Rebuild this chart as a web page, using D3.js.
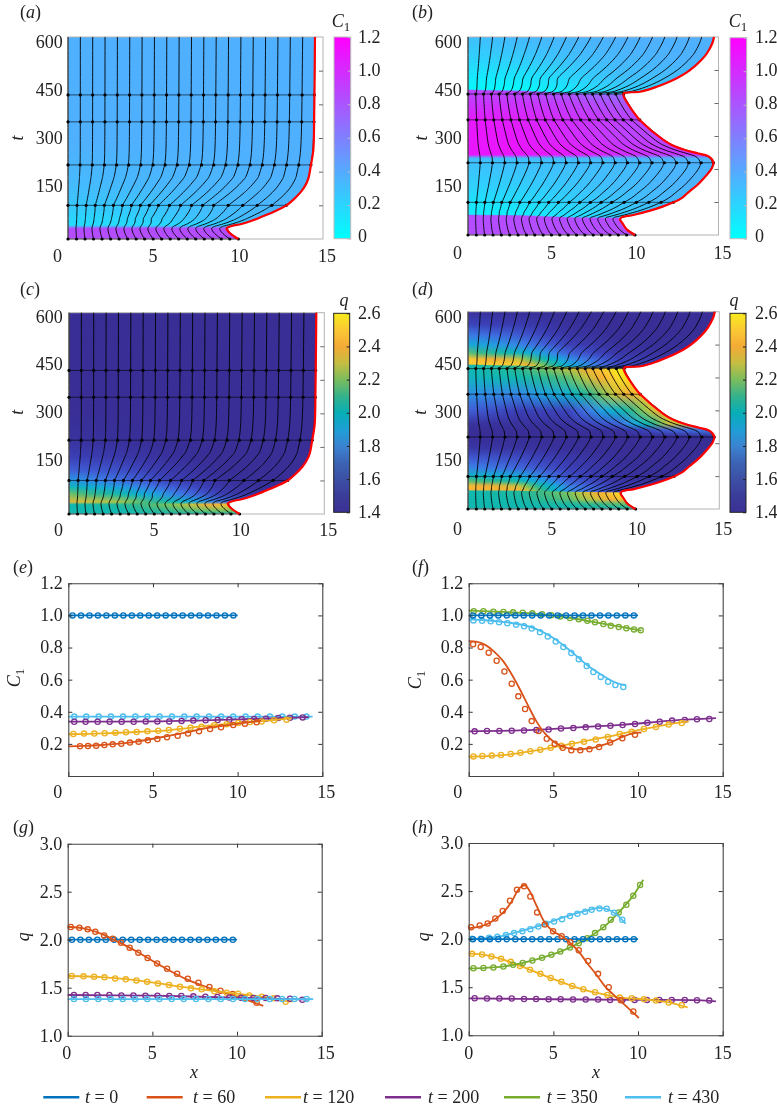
<!DOCTYPE html>
<html>
<head>
<meta charset="utf-8">
<style>
  html, body { margin: 0; padding: 0; background: #fff; overflow: hidden; }
  canvas, svg { position: absolute; left: 0; top: 0; }
  text { font-family: "Liberation Serif", serif; fill: #222; }
</style>
<script src="https://cdn.jsdelivr.net/npm/d3@7"></script>
</head>
<body>
<canvas id="heat" width="777" height="1107"></canvas>
<svg id="chart" width="777" height="1107"></svg>
<script>
// moving boundary (a)/(c) and (b)/(d)
const leftBoundT = [0, 17, 32, 38.6, 44.6, 55, 66, 82, 99, 120, 140, 160, 180, 220, 264, 363, 600];
const leftBoundX = [10.02, 9.53, 9.33, 9.63, 10.2, 10.85, 11.39, 12.15, 12.82, 13.32, 13.7, 13.97, 14.14, 14.29, 14.43, 14.48, 14.53];
const rightBoundT = [0, 17, 35, 47.5, 53.5, 60.6, 73.7, 86, 99, 112, 125, 136, 150, 172, 202, 219, 237, 247, 257.6, 273, 288, 348, 373, 424, 430, 434, 449, 462, 475, 492, 510, 530, 550, 581, 600];
const rightBoundX = [10, 9.5, 9.26, 9.1, 9.2, 9.9, 10.9, 11.65, 12.3, 12.8, 13.1, 13.35, 13.7, 14.12, 14.6, 14.7, 14.45, 13.8, 13, 12.2, 11.7, 10.3, 9.9, 9.3, 9.34, 10.3, 11.3, 11.95, 12.5, 13.08, 13.55, 13.97, 14.3, 14.63, 14.73];

// times where the dotted rows sit
const leftRows = [0, 100, 220, 348, 428];
const rightRows = [0, 99, 219, 349, 427];

// node fractions of the boundary at 0, 1/4, 1/2, 3/4, 1 of the nodes
const fracNodes = [0, 0.25, 0.5, 0.75, 1];
const leftFracT = [0, 36, 60, 100, 150, 185, 220, 600];
const leftFrac = [
  [0, .25, .5, .75, 1], [0, .25, .5, .75, 1], [0, .23, .44, .73, 1], [0, .208, .414, .667, 1],
  [0, .225, .455, .71, 1], [0, .24, .485, .74, 1], [0, .25, .5, .75, 1], [0, .25, .5, .75, 1]
];
const rightFracT = [0, 53, 70, 99, 150, 219, 241, 288, 349, 432, 475, 545, 600];
const rightFrac = [
  [0, .25, .5, .75, 1], [0, .25, .5, .75, 1], [0, .22, .46, .72, 1], [0, .205, .44, .70, 1],
  [0, .225, .47, .73, 1], [0, .25, .5, .75, 1], [0, .25, .505, .75, 1], [0, .25, .505, .77, 1],
  [0, .25, .5, .76, 1], [0, .25, .5, .75, 1], [0, .22, .425, .71, 1], [0, .235, .47, .735, 1], [0, .25, .5, .75, 1]
];

// colour fields: columns at fieldX, a row gives its time (one, or one per column) and values
const fieldX = [0, 3, 6, 9, 12, 15];
const aFieldT = [0, 31, 41, 60, 100, 160, 220, 300, 600];
const aFieldV = [
  [.84, .84, .84, .84, .84, .84], [.84, .84, .84, .84, .84, .84], [.17, .17, .17, .2, .2, .2],
  [.19, .2, .25, .31, .33, .33], [.26, .27, .3, .32, .35, .36], [.32, .33, .34, .35, .36, .36],
  [.35, .35, .36, .36, .37, .37], [.37, .37, .37, .37, .37, .37], [.37, .37, .37, .37, .37, .37]
];
const bFieldT = [
  0, [59, 58, 52, 50, 50, 50], [63, 62, 56, 54, 54, 54], 100, 150, 205, 232, 244, 300, 350, 400, 423,
  [438, 435, 428, 425, 425, 425], [442, 440, 433, 430, 430, 430], 480, 540, 600
];
const bFieldV = [
  [.84, .84, .84, .84, .84, .84], [.84, .84, .84, .84, .84, .84], [.08, .08, .14, .22, .25, .25],
  [.13, .16, .22, .28, .33, .34], [.22, .23, .27, .31, .35, .36], [.28, .29, .3, .32, .35, .36],
  [.3, .3, .3, .33, .36, .36], [1.1, 1.1, 1.08, 1, .95, .95], [1.1, 1.08, 1, .9, .85, .85],
  [1.08, 1.05, .98, .9, .85, .85], [.95, .95, .9, .8, .8, .8], [.9, .88, .8, .7, .7, .7],
  [.9, .87, .78, .62, .6, .6], [.03, .03, .1, .2, .22, .22], [.1, .12, .2, .3, .32, .33],
  [.22, .25, .3, .34, .36, .37], [.3, .33, .35, .37, .37, .37]
];
const cFieldT = [0, 10, 28, 36, 60, 80, 100, 130, 170, 220, 300, 600];
const cFieldV = [
  [2, 2, 2, 2, 2, 2], [2, 2, 2.1, 2.2, 2.2, 2.2], [2, 2.05, 2.2, 2.45, 2.45, 2.45],
  [2.35, 2.25, 2, 1.65, 1.5, 1.5], [2.18, 2, 1.72, 1.48, 1.42, 1.42], [1.98, 1.8, 1.6, 1.45, 1.4, 1.4],
  [1.78, 1.65, 1.5, 1.42, 1.4, 1.4], [1.6, 1.55, 1.46, 1.4, 1.39, 1.39], [1.5, 1.46, 1.42, 1.39, 1.38, 1.38],
  [1.43, 1.41, 1.4, 1.39, 1.38, 1.38], [1.39, 1.39, 1.39, 1.38, 1.38, 1.38], [1.385, 1.385, 1.385, 1.385, 1.385, 1.385]
];
const dFieldT = [
  0, 15, 30, [55, 55, 51, 49, 49, 49], [58, 57, 54, 52, 52, 52], 70, 85, 100, 125, 150, 185, 220, 240, 260, 300, 350, 400,
  [437, 434, 429, 426, 426, 426], [441, 438, 433, 430, 430, 430], 455, 475, 500, 530, 560, 600
];
const dFieldV = [
  [2, 2, 2, 2, 2, 2], [2, 2, 2.03, 2.15, 2.2, 2.2], [2, 2.02, 2.15, 2.45, 2.5, 2.5], [2, 2.05, 2.2, 2.55, 2.6, 2.6],
  [2.42, 2.42, 1.75, 1.5, 1.45, 1.45], [2.45, 2.3, 1.7, 1.48, 1.43, 1.43], [2.15, 2, 1.6, 1.45, 1.42, 1.42],
  [1.95, 1.85, 1.55, 1.43, 1.4, 1.4], [1.72, 1.62, 1.5, 1.42, 1.4, 1.4], [1.6, 1.55, 1.47, 1.41, 1.39, 1.39],
  [1.45, 1.43, 1.41, 1.39, 1.38, 1.38], [1.39, 1.39, 1.39, 1.39, 1.39, 1.39], [1.4, 1.4, 1.4, 1.42, 1.6, 1.7],
  [1.43, 1.42, 1.43, 1.62, 2.3, 2.4], [1.6, 1.5, 1.52, 1.95, 2.5, 2.5], [1.75, 1.72, 1.9, 2.35, 2.6, 2.6],
  [1.95, 2, 2.15, 2.55, 2.6, 2.6], [2, 2.1, 2.3, 2.6, 2.6, 2.6], [2.5, 2.5, 1.9, 1.55, 1.5, 1.5],
  [2.5, 2.3, 1.75, 1.5, 1.45, 1.45], [2.15, 1.95, 1.6, 1.45, 1.42, 1.42], [1.85, 1.72, 1.5, 1.42, 1.41, 1.41],
  [1.68, 1.58, 1.45, 1.4, 1.4, 1.4], [1.52, 1.48, 1.42, 1.39, 1.39, 1.39], [1.42, 1.4, 1.39, 1.38, 1.38, 1.38]
];

// colours of the q colour bar and of the q field, one every 0.1 from 1.4 to 2.6
const parulaStops = ["#3a3094", "#3b3c9a", "#3c50a5", "#3c64b4", "#3b84d2", "#1e9fd6", "#06aeb6", "#35b28c", "#7bbd5d", "#c5bd42", "#f4ab36", "#fbc934", "#f6ea1c"];
const fieldStops = ["#382e96", "#3b3fb6", "#4060d8", "#3a80e8", "#1fa0e0", "#0eb0d0", "#10b8b0", "#35b88c", "#7fc45c", "#c8c23e", "#f6ae34", "#fbca32", "#f8f018"];
const seriesColors = ["#0072BD", "#D95319", "#EDB120", "#7E2F8E", "#77AC30", "#4DBEEE"];
const legendTimes = [0, 60, 120, 200, 350, 430];

// profile values, t = 0 is the same everywhere
const t0Line = [0, 10];
const t0MarkX = [.25, .75, 1.25, 1.75, 2.25, 2.75, 3.25, 3.75, 4.25, 4.75, 5.25, 5.75, 6.25, 6.75, 7.25, 7.75, 8.25, 8.75, 9.25, 9.75];

// (e) C1, left case
const e60Line = [[0, .185], [1, .187], [2, .193], [3, .201], [4, .214], [5, .232], [6, .251], [7, .272], [8, .295], [9, .31], [10, .325], [11.4, .345]];
const e60MarkX = [.69, 1.16, 1.65, 2.13, 2.62, 3.13, 3.64, 4.15, 4.7, 5.26, 5.83, 6.46, 7.07, 7.72, 8.37, 9.02, 9.74, 10.43, 11.12];
const e60MarkY = [.185, .187, .189, .193, .197, .201, .208, .214, .222, .23, .241, .251, .264, .278, .293, .303, .318, .326, .334];
const e120Line = [[0, .26], [2, .265], [4, .274], [6, .286], [8, .31], [10, .33], [12, .347], [13.2, .36]];
const e120MarkX = [.3, .93, 1.54, 2.15, 2.78, 3.41, 4.04, 4.67, 5.31, 5.94, 6.59, 7.22, 7.87, 8.62, 9.35, 10.04, 10.73, 11.42, 12.15, 12.89];
const e120MarkY = [.262, .264, .264, .266, .27, .272, .274, .278, .282, .286, .295, .301, .307, .316, .322, .33, .336, .34, .347, .351];
const e200Line = [[0, .338], [5, .34], [8, .347], [11, .355], [14.2, .367]];
const e200MarkX = [.35, 1.02, 1.73, 2.44, 3.15, 3.86, 4.57, 5.26, 5.96, 6.69, 7.38, 8.11, 8.82, 9.51, 10.24, 10.97, 11.67, 12.4, 13.09, 13.84];
const e200MarkY = [.338, .338, .338, .338, .338, .338, .34, .34, .34, .343, .345, .347, .349, .351, .353, .355, .357, .361, .363, .365];
const e430Line = [[0, .37], [14.43, .37]];
const e430MarkX = [.35, 1.06, 1.79, 2.52, 3.23, 3.96, 4.67, 5.39, 6.12, 6.85, 7.58, 8.31, 9.02, 9.74, 10.47, 11.18, 11.91, 12.64, 13.37, 14.07];

// (f) C1, right case
const f60Line = [[0, .84], [.5, .835], [1, .815], [1.5, .775], [2, .72], [2.5, .64], [3, .545], [3.5, .44], [4, .34], [4.5, .265], [5, .215], [5.5, .185], [6, .17], [6.5, .165], [7, .17], [7.5, .18], [8, .195], [8.5, .215], [9, .24], [9.5, .26], [10, .27], [10.2, .27]];
const f60MarkX = [.26, .71, 1.18, 1.65, 2.11, 2.54, 2.93, 3.33, 3.72, 4.13, 4.61, 5.08, 5.55, 6.06, 6.59, 7.13, 7.7, 8.35, 9.07, 9.82];
const f60MarkY = [.82, .803, .768, .718, .651, .575, .496, .417, .342, .28, .232, .201, .176, .16, .16, .166, .181, .208, .235, .257];
const f120Line = [[0, .12], [2, .13], [4, .16], [6, .2], [8, .24], [10, .285], [12, .325], [13, .34]];
const f120MarkX = [.28, .81, 1.36, 1.91, 2.48, 3.05, 3.64, 4.23, 4.84, 5.47, 6.1, 6.81, 7.5, 8.21, 8.92, 9.63, 10.35, 11.06, 11.81, 12.58];
const f120MarkY = [.122, .125, .127, .131, .137, .145, .154, .164, .176, .189, .201, .214, .228, .243, .262, .276, .293, .305, .32, .33];
const f200Line = [[0, .278], [3, .284], [6, .3], [9, .318], [12, .345], [14.6, .36]];
const f200MarkX = [.35, 1.08, 1.81, 2.54, 3.27, 4, 4.72, 5.45, 6.18, 6.91, 7.64, 8.37, 9.09, 9.82, 10.55, 11.28, 12.01, 12.76, 13.48, 14.21];
const f200MarkY = [.278, .28, .28, .282, .284, .286, .29, .296, .299, .303, .309, .313, .318, .324, .332, .338, .345, .349, .353, .355];
const f350Line = [[0, 1.03], [2, 1.022], [4, 1.01], [6, .984], [8, .947], [10.2, .905]];
const f350MarkX = [.3, .87, 1.46, 2.05, 2.62, 3.19, 3.76, 4.33, 4.88, 5.41, 5.98, 6.5, 7.01, 7.46, 7.95, 8.39, 8.86, 9.31, 9.76, 10.16];
const f350MarkY = [1.026, 1.026, 1.023, 1.021, 1.019, 1.017, 1.013, 1.007, 1.001, .994, .984, .976, .967, .957, .947, .936, .928, .92, .913, .907];
const f430Line = [[0, .975], [1, .97], [2, .96], [3, .945], [4, .915], [5, .86], [6, .78], [7, .69], [8, .62], [8.5, .59], [9, .57], [9.3, .565]];
const f430MarkX = [.28, .79, 1.3, 1.79, 2.28, 2.8, 3.27, 3.72, 4.21, 4.67, 5.14, 5.59, 6.06, 6.5, 6.97, 7.36, 7.8, 8.23, 8.66, 9.13];
const f430MarkY = [.969, .967, .963, .957, .951, .942, .932, .918, .895, .868, .837, .803, .766, .727, .685, .648, .617, .587, .567, .554];

// (g) q, left case
const g60Line = [[0, 2.135], [1, 2.115], [2, 2.06], [3, 1.975], [4, 1.885], [5, 1.78], [6, 1.68], [7, 1.59], [8, 1.52], [9, 1.46], [10, 1.41], [11.55, 1.31]];
const g60MarkX = [.18, .69, 1.18, 1.63, 2.15, 2.66, 3.15, 3.66, 4.17, 4.72, 5.28, 5.87, 6.46, 7.09, 7.72, 8.37, 9.02, 9.74, 10.43, 11.16];
const g60MarkY = [2.132, 2.125, 2.108, 2.083, 2.045, 2.01, 1.969, 1.917, 1.865, 1.809, 1.753, 1.698, 1.646, 1.594, 1.552, 1.507, 1.469, 1.434, 1.396, 1.344];
const g120Line = [[0, 1.622], [2, 1.61], [4, 1.578], [6, 1.528], [8, 1.48], [10, 1.438], [12, 1.392], [12.9, 1.36], [13.3, 1.358]];
const g120MarkX = [.24, .93, 1.56, 2.17, 2.8, 3.43, 4.06, 4.69, 5.33, 5.98, 6.63, 7.28, 7.91, 8.66, 9.39, 10.06, 10.73, 11.46, 12.15, 12.87];
const g120MarkY = [1.622, 1.618, 1.615, 1.608, 1.597, 1.587, 1.576, 1.563, 1.545, 1.528, 1.51, 1.493, 1.483, 1.462, 1.448, 1.438, 1.42, 1.406, 1.389, 1.354];
const g200Line = [[0, 1.424], [5, 1.417], [10, 1.396], [14.2, 1.375]];
const g200MarkX = [.37, 1.06, 1.75, 2.46, 3.17, 3.88, 4.59, 5.3, 6, 6.71, 7.42, 8.13, 8.84, 9.55, 10.24, 10.96, 11.69, 12.38, 13.13, 13.86];
const g200MarkY = [1.424, 1.424, 1.424, 1.424, 1.42, 1.42, 1.417, 1.417, 1.413, 1.413, 1.41, 1.406, 1.403, 1.399, 1.396, 1.392, 1.392, 1.389, 1.385, 1.375];
const g430Line = [[0, 1.382], [14.5, 1.382]];
const g430MarkX = [.37, 1.08, 1.81, 2.54, 3.25, 3.98, 4.7, 5.41, 6.14, 6.85, 7.58, 8.31, 9.04, 9.76, 10.47, 11.2, 11.93, 12.66, 13.39, 14.11];

// (h) q, right case
const h60Line = [[0, 2.115], [.5, 2.125], [1, 2.15], [1.5, 2.2], [2, 2.27], [2.5, 2.38], [3, 2.53], [3.33, 2.56], [3.6, 2.5], [4, 2.35], [4.5, 2.17], [5, 2.08], [5.5, 2.03], [6, 1.96], [6.5, 1.87], [7, 1.75], [7.5, 1.64], [8, 1.52], [8.5, 1.43], [9, 1.35], [9.5, 1.27], [10.05, 1.18]];
const h60MarkX = [.14, .65, 1.12, 1.57, 2.01, 2.44, 2.85, 3.27, 3.64, 4.04, 4.49, 4.98, 5.49, 6, 6.5, 7.05, 7.64, 8.27, 8.98, 9.72];
const h60MarkY = [2.125, 2.142, 2.163, 2.215, 2.292, 2.399, 2.514, 2.549, 2.444, 2.278, 2.153, 2.083, 2.031, 1.969, 1.885, 1.774, 1.639, 1.5, 1.365, 1.247];
const h120Line = [[0, 1.85], [1, 1.835], [2, 1.79], [3, 1.725], [4, 1.655], [5, 1.585], [6, 1.52], [7, 1.465], [8, 1.425], [9, 1.39], [10, 1.38], [11, 1.362], [12, 1.335], [12.93, 1.29]];
const h120MarkX = [.2, .79, 1.34, 1.91, 2.48, 3.03, 3.62, 4.23, 4.84, 5.47, 6.12, 6.77, 7.46, 8.19, 8.92, 9.63, 10.35, 11.06, 11.81, 12.58];
const h120MarkY = [1.847, 1.84, 1.819, 1.795, 1.764, 1.722, 1.681, 1.639, 1.597, 1.556, 1.514, 1.479, 1.448, 1.42, 1.392, 1.385, 1.375, 1.361, 1.34, 1.313];
const h200Line = [[0, 1.385], [5, 1.375], [10, 1.368], [13.5, 1.365], [14.6, 1.352]];
const h200MarkX = [.35, 1.08, 1.81, 2.54, 3.27, 3.98, 4.72, 5.43, 6.16, 6.91, 7.64, 8.35, 9.07, 9.8, 10.53, 11.26, 11.99, 12.76, 13.48, 14.21];
const h200MarkY = [1.385, 1.382, 1.382, 1.382, 1.378, 1.378, 1.375, 1.375, 1.372, 1.372, 1.372, 1.368, 1.368, 1.368, 1.368, 1.368, 1.368, 1.368, 1.365, 1.361];
const h350Line = [[0, 1.695], [1, 1.702], [2, 1.715], [3, 1.745], [4, 1.79], [5, 1.845], [6, 1.915], [7, 2.01], [8, 2.13], [9, 2.305], [9.7, 2.45], [10.31, 2.618]];
const h350MarkX = [.28, .87, 1.46, 2.05, 2.62, 3.19, 3.76, 4.33, 4.88, 5.41, 5.98, 6.5, 7.01, 7.46, 7.95, 8.39, 8.86, 9.31, 9.72, 10.12];
const h350MarkY = [1.698, 1.701, 1.705, 1.715, 1.733, 1.753, 1.778, 1.806, 1.837, 1.872, 1.913, 1.958, 2.01, 2.063, 2.125, 2.201, 2.278, 2.358, 2.451, 2.563];
const h430Line = [[0, 2], [1, 2.01], [2, 2.035], [3, 2.08], [4, 2.13], [5, 2.19], [6, 2.25], [7, 2.3], [7.7, 2.325], [8.2, 2.31], [8.7, 2.26], [9.27, 2.16]];
const h430MarkX = [.2, .71, 1.2, 1.69, 2.2, 2.68, 3.17, 3.64, 4.11, 4.57, 5.04, 5.51, 5.98, 6.42, 6.87, 7.26, 7.72, 8.15, 8.58, 9.07];
const h430MarkY = [2.003, 2.003, 2.014, 2.024, 2.042, 2.063, 2.083, 2.104, 2.132, 2.16, 2.184, 2.208, 2.24, 2.264, 2.285, 2.306, 2.32, 2.316, 2.274, 2.201];

const svg = d3.select("#chart");
const ctx = document.getElementById("heat").getContext("2d");

const coolColor = d3.scaleLinear().domain([0, 1.2]).range(["#00ffff", "#ff00ff"]).clamp(true);
const qDomain = parulaStops.map((d, i) => 1.4 + 1.2 * i / (parulaStops.length - 1));
const parulaColor = d3.scaleLinear().domain(qDomain).range(parulaStops).clamp(true);
const fieldColor = d3.scaleLinear().domain(qDomain).range(fieldStops).clamp(true);

function label(x, y, str, anchor) {
  return svg.append("text").attr("x", x).attr("y", y).attr("dy", ".33em")
    .attr("font-size", 18).attr("text-anchor", anchor || "middle").text(str);
}
function ital(x, y, str, rotate) {
  let t = label(x, y, str).attr("font-style", "italic");
  if (rotate) t.attr("transform", `rotate(-90 ${x} ${y})`);
  return t;
}
function c1Label(x, y, rotate) {
  let t = label(x, y, "").attr("font-style", "italic");
  t.append("tspan").text("C");
  t.append("tspan").attr("font-style", "normal").attr("font-size", 13).attr("dy", 4).text("1");
  if (rotate) t.attr("transform", `rotate(-90 ${x} ${y})`);
}
function letter(x, y, ch) {
  let t = label(x, y, "", "start");
  t.append("tspan").text("(");
  t.append("tspan").attr("font-style", "italic").text(ch);
  t.append("tspan").text(")");
}

// ---- panels (a)-(d): colour field, moving boundary, node lines
function heatPanel(o) {
  let x = d3.scaleLinear().domain([0, 15]).range([o.left, o.right]);
  let y = d3.scaleLinear().domain([0, 600]).range([o.bottom, o.top]);
  let lengthAt = d3.scaleLinear().domain(o.boundT).range(o.boundX);
  let boundary = d3.line().x(d => x(d[1])).y(d => y(d[0])).curve(d3.curveCatmullRom.alpha(0.5));
  let boundPts = d3.zip(o.boundT, o.boundX);

  // field, one pixel column at a time, with a vertical gradient between the rows
  ctx.save();
  ctx.clip(new Path2D(boundary(boundPts) + `L${x(0)},${y(600)}L${x(0)},${y(0)}Z`));
  let colIndex = d3.scaleLinear().domain(fieldX).range(d3.range(fieldX.length)).clamp(true);
  for (let px = Math.floor(x(0)); px < Math.ceil(x(15)); px++) {
    let c = colIndex(x.invert(px + .5));
    let i = Math.min(Math.floor(c), fieldX.length - 2), f = c - i;
    let grad = ctx.createLinearGradient(0, y(0), 0, y(600));
    o.fieldT.forEach((r, k) => {
      let t = typeof r === "number" ? r : r[i] + (r[i + 1] - r[i]) * f;
      let v = o.fieldV[k][i] + (o.fieldV[k][i + 1] - o.fieldV[k][i]) * f;
      grad.addColorStop(t / 600, o.color(v));
    });
    ctx.fillStyle = grad;
    ctx.fillRect(px, o.top, 1, o.bottom - o.top);
  }
  ctx.restore();

  let g = svg.append("g");
  g.append("rect").attr("x", o.left).attr("y", o.top)
    .attr("width", o.right - o.left).attr("height", o.bottom - o.top)
    .attr("fill", "none").attr("stroke", "#b4b4b4").attr("stroke-width", 1);
  let ax = g.append("g").attr("transform", `translate(${o.right},0)`)
    .call(d3.axisRight(y).tickValues(d3.range(100, 600, 100)).tickSize(-4).tickFormat(""));
  ax.select(".domain").remove();
  ax.selectAll("line").attr("stroke", "#444").attr("stroke-width", .8);

  // node lines
  let fracAt = fracNodes.map((_, col) => d3.scaleLinear().domain(o.fracT).range(o.frac.map(r => r[col])));
  let nodeX = (u, t) => d3.scaleLinear().domain(fracNodes).range(fracAt.map(s => s(t)))(u) * lengthAt(t);
  let lineTs = Array.from(new Set(o.fracT.concat(o.boundT))).sort(d3.ascending);
  let nodeLine = d3.line().curve(d3.curveBasis);
  let nodes = d3.range(21).map(i => i / 20);
  g.selectAll(".node").data(nodes).join("path")
    .attr("d", u => nodeLine(lineTs.map(t => [x(nodeX(u, t)), y(t)])))
    .attr("fill", "none").attr("stroke", "#000").attr("stroke-width", .9);

  o.rows.forEach(t => {
    g.append("line").attr("x1", x(0)).attr("x2", x(lengthAt(t))).attr("y1", y(t)).attr("y2", y(t))
      .attr("stroke", "#000").attr("stroke-width", .6);
    g.selectAll(null).data(nodes).join("circle")
      .attr("cx", u => x(nodeX(u, t))).attr("cy", y(t)).attr("r", 1.6).attr("fill", "#000");
  });

  g.append("path").attr("d", boundary(boundPts)).attr("fill", "none")
    .attr("stroke", "#ff0000").attr("stroke-width", 2.2);

  // labels do not sit on the ticks in the original, so they get their own scale
  let tLabel = d3.scaleLinear().domain([150, 600]).range(o.tLabelRange);
  [150, 300, 450, 600].forEach(v => label(o.tLabelEnd, tLabel(v), v, "end"));
  [0, 5, 10, 15].forEach(v => label(x(v) + (v === 0 ? -10.5 : v === 15 ? 4 : v === 10 ? 1.5 : 0), o.xLabelY, v));
  ital(o.tNameX, tLabel(300), "t", true);
}

function colorbar(o) {
  let id = "cb" + o.id;
  let grad = svg.append("defs").append("linearGradient").attr("id", id)
    .attr("x1", 0).attr("x2", 0).attr("y1", 1).attr("y2", 0);
  let domain = o.color.domain(), range = o.color.range();
  domain.forEach((d, i) => grad.append("stop")
    .attr("offset", (d - domain[0]) / (domain[domain.length - 1] - domain[0]))
    .attr("stop-color", range[i]));
  svg.append("rect").attr("x", o.x0).attr("y", o.y0).attr("width", o.x1 - o.x0).attr("height", o.y1 - o.y0)
    .attr("fill", `url(#${id})`).attr("stroke", o.stroke).attr("stroke-width", 1);
  let y = d3.scaleLinear().domain(o.domain).range([o.y1, o.y0]);
  let ax = svg.append("g").attr("transform", `translate(${o.x1},0)`)
    .call(d3.axisRight(y).tickValues(o.ticks).tickSize(-3).tickFormat(""));
  ax.select(".domain").remove();
  ax.selectAll("line").attr("stroke", o.stroke);
  let lab = d3.scaleLinear().domain(o.domain).range(o.labelRange);
  o.ticks.forEach(v => label(o.labelX, lab(v), v === 0 ? "0" : d3.format(".1f")(v), "start"));
}

const c1Ticks = [0, .2, .4, .6, .8, 1, 1.2];
const qTicks = [1.4, 1.6, 1.8, 2, 2.2, 2.4, 2.6];

heatPanel({ left: 68, right: 323, top: 37, bottom: 239, boundT: leftBoundT, boundX: leftBoundX, rows: leftRows,
  fracT: leftFracT, frac: leftFrac, fieldT: aFieldT, fieldV: aFieldV, color: coolColor,
  tLabelRange: [186, 42], tLabelEnd: 62.7, xLabelY: 256, tNameX: 17 });
heatPanel({ left: 468, right: 718.5, top: 37, bottom: 235, boundT: rightBoundT, boundX: rightBoundX, rows: rightRows,
  fracT: rightFracT, frac: rightFrac, fieldT: bFieldT, fieldV: bFieldV, color: coolColor,
  tLabelRange: [186, 42], tLabelEnd: 461.7, xLabelY: 253, tNameX: 421 });
heatPanel({ left: 69, right: 324.3, top: 312.7, bottom: 514, boundT: leftBoundT, boundX: leftBoundX, rows: leftRows,
  fracT: leftFracT, frac: leftFrac, fieldT: cFieldT, fieldV: cFieldV, color: fieldColor,
  tLabelRange: [460, 316.7], tLabelEnd: 62.7, xLabelY: 530, tNameX: 17 });
heatPanel({ left: 468, right: 719.3, top: 311.7, bottom: 509, boundT: rightBoundT, boundX: rightBoundX, rows: rightRows,
  fracT: rightFracT, frac: rightFrac, fieldT: dFieldT, fieldV: dFieldV, color: fieldColor,
  tLabelRange: [460, 316.7], tLabelEnd: 461.7, xLabelY: 529, tNameX: 420 });

colorbar({ id: "a", x0: 334, x1: 350.7, y0: 37, y1: 238.7, color: coolColor, domain: [0, 1.2], ticks: c1Ticks, stroke: "#bbb", labelRange: [236, 37], labelX: 358 });
colorbar({ id: "b", x0: 730, x1: 746.7, y0: 37.7, y1: 238.7, color: coolColor, domain: [0, 1.2], ticks: c1Ticks, stroke: "#bbb", labelRange: [236, 37], labelX: 755 });
colorbar({ id: "c", x0: 333.7, x1: 349.7, y0: 313.3, y1: 512.3, color: parulaColor, domain: [1.4, 2.6], ticks: qTicks, stroke: "#222", labelRange: [512.3, 312.7], labelX: 358 });
colorbar({ id: "d", x0: 730, x1: 746, y0: 313.3, y1: 512.3, color: parulaColor, domain: [1.4, 2.6], ticks: qTicks, stroke: "#222", labelRange: [512.3, 312.7], labelX: 755 });

c1Label(341, 21);
c1Label(738, 21);
ital(344, 300, "q");
ital(734, 300, "q");

// ---- panels (e)-(h): profiles with circles on top
function linePanel(o) {
  let x = d3.scaleLinear().domain([0, 15]).range([o.left, o.right]);
  let y = d3.scaleLinear().domain(o.yDomain).range([o.bottom, o.top]);
  let g = svg.append("g");
  let line = d3.line().x(d => x(d[0])).y(d => y(d[1])).curve(d3.curveCatmullRom.alpha(0.5));

  o.series.forEach(s => {
    g.append("path").attr("d", line(s.line)).attr("fill", "none")
      .attr("stroke", seriesColors[s.c]).attr("stroke-width", 1.8);
    g.selectAll(null).data(d3.zip(s.markX, s.markY)).join("circle")
      .attr("cx", d => x(d[0])).attr("cy", d => y(d[1])).attr("r", 2.6)
      .attr("fill", "none").attr("stroke", seriesColors[s.c]).attr("stroke-width", 1.3);
  });

  let xVals = [5, 10];
  [[d3.axisBottom(x), o.bottom, -4], [d3.axisTop(x), o.top, -4]].forEach(a => {
    g.append("g").attr("class", "frame").attr("transform", `translate(0,${a[1]})`)
      .call(a[0].tickValues(xVals).tickSize(a[2]).tickFormat(""));
  });
  [[d3.axisLeft(y), o.left], [d3.axisRight(y), o.right]].forEach(a => {
    g.append("g").attr("class", "frame").attr("transform", `translate(${a[1]},0)`)
      .call(a[0].tickValues(o.yTicks.slice(1, -1)).tickSize(-4).tickFormat(""));
  });
  g.selectAll(".frame path").attr("stroke", "#444").attr("stroke-width", 1.1);
  g.selectAll(".frame line").attr("stroke", "#333").attr("stroke-width", 1);

  o.yTicks.forEach(v => { if (v > o.yDomain[0] || o.labelFirst) label(o.left - 5.5, y(v), d3.format(".1f")(v), "end"); });
  [0, 5, 10, 15].forEach(v => label(x(v) + (v === 0 ? o.zeroShift : v === 15 ? o.lastShift : 0), o.xLabelY, v));
}

const t0Pts = v => t0Line.map(x => [x, v]);
const c1YTicks = [0, .2, .4, .6, .8, 1, 1.2];
const qYTicks = [1, 1.5, 2, 2.5, 3];

linePanel({ left: 68.3, right: 322.3, top: 583.3, bottom: 776, yDomain: [0, 1.2], yTicks: c1YTicks, xLabelY: 792, zeroShift: -10.5, lastShift: 4,
  series: [
    { c: 5, line: e430Line, markX: e430MarkX, markY: e430MarkX.map(() => .37) },
    { c: 3, line: e200Line, markX: e200MarkX, markY: e200MarkY },
    { c: 2, line: e120Line, markX: e120MarkX, markY: e120MarkY },
    { c: 1, line: e60Line, markX: e60MarkX, markY: e60MarkY },
    { c: 0, line: t0Pts(1), markX: t0MarkX, markY: t0MarkX.map(() => 1) }
  ] });
linePanel({ left: 468.7, right: 722.7, top: 583.3, bottom: 776, yDomain: [0, 1.2], yTicks: c1YTicks, xLabelY: 792, zeroShift: -11, lastShift: 0,
  series: [
    { c: 3, line: f200Line, markX: f200MarkX, markY: f200MarkY },
    { c: 2, line: f120Line, markX: f120MarkX, markY: f120MarkY },
    { c: 1, line: f60Line, markX: f60MarkX, markY: f60MarkY },
    { c: 5, line: f430Line, markX: f430MarkX, markY: f430MarkY },
    { c: 4, line: f350Line, markX: f350MarkX, markY: f350MarkY },
    { c: 0, line: t0Pts(1), markX: t0MarkX, markY: t0MarkX.map(() => 1) }
  ] });
linePanel({ left: 67.7, right: 321.7, top: 843.7, bottom: 1035.7, yDomain: [1, 3], yTicks: qYTicks, labelFirst: true, xLabelY: 1052.7, zeroShift: -1, lastShift: 4,
  series: [
    { c: 0, line: t0Pts(2), markX: t0MarkX, markY: t0MarkX.map(() => 2) },
    { c: 1, line: g60Line, markX: g60MarkX, markY: g60MarkY },
    { c: 2, line: g120Line, markX: g120MarkX, markY: g120MarkY },
    { c: 3, line: g200Line, markX: g200MarkX, markY: g200MarkY },
    { c: 5, line: g430Line, markX: g430MarkX, markY: g430MarkX.map(() => 1.382) }
  ] });
linePanel({ left: 468.7, right: 722.7, top: 843, bottom: 1035.3, yDomain: [1, 3], yTicks: qYTicks, labelFirst: true, xLabelY: 1052.7, zeroShift: 0, lastShift: 0,
  series: [
    { c: 3, line: h200Line, markX: h200MarkX, markY: h200MarkY },
    { c: 2, line: h120Line, markX: h120MarkX, markY: h120MarkY },
    { c: 4, line: h350Line, markX: h350MarkX, markY: h350MarkY },
    { c: 5, line: h430Line, markX: h430MarkX, markY: h430MarkY },
    { c: 0, line: t0Pts(2), markX: t0MarkX, markY: t0MarkX.map(() => 2) },
    { c: 1, line: h60Line, markX: h60MarkX, markY: h60MarkY }
  ] });

c1Label(14, 678, true);
c1Label(415, 680, true);
ital(22.7, 936.7, "q", true);
ital(423, 936.7, "q", true);
ital(194, 1071.7, "x");
ital(596, 1071.7, "x");

letter(20, 12, "a");
letter(412, 12, "b");
letter(20, 289, "c");
letter(412, 289, "d");
letter(13, 567, "e");
letter(412, 567, "f");
letter(13, 827, "g");
letter(412, 827, "h");

// ---- legend
const legendLineX = [43.3, 146.7, 265, 385, 504, 625];
const legendTextX = [85, 193, 303, 428, 546.7, 668];
legendTimes.forEach((t, i) => {
  svg.append("line").attr("x1", legendLineX[i]).attr("x2", legendLineX[i] + 36)
    .attr("y1", 1097.3).attr("y2", 1097.3)
    .attr("stroke", seriesColors[i]).attr("stroke-width", 2.4);
  let lab = label(legendTextX[i], 1097.3, "", "start");
  lab.append("tspan").attr("font-style", "italic").text("t");
  lab.append("tspan").text(" = " + t);
});
</script>
</body>
</html>
